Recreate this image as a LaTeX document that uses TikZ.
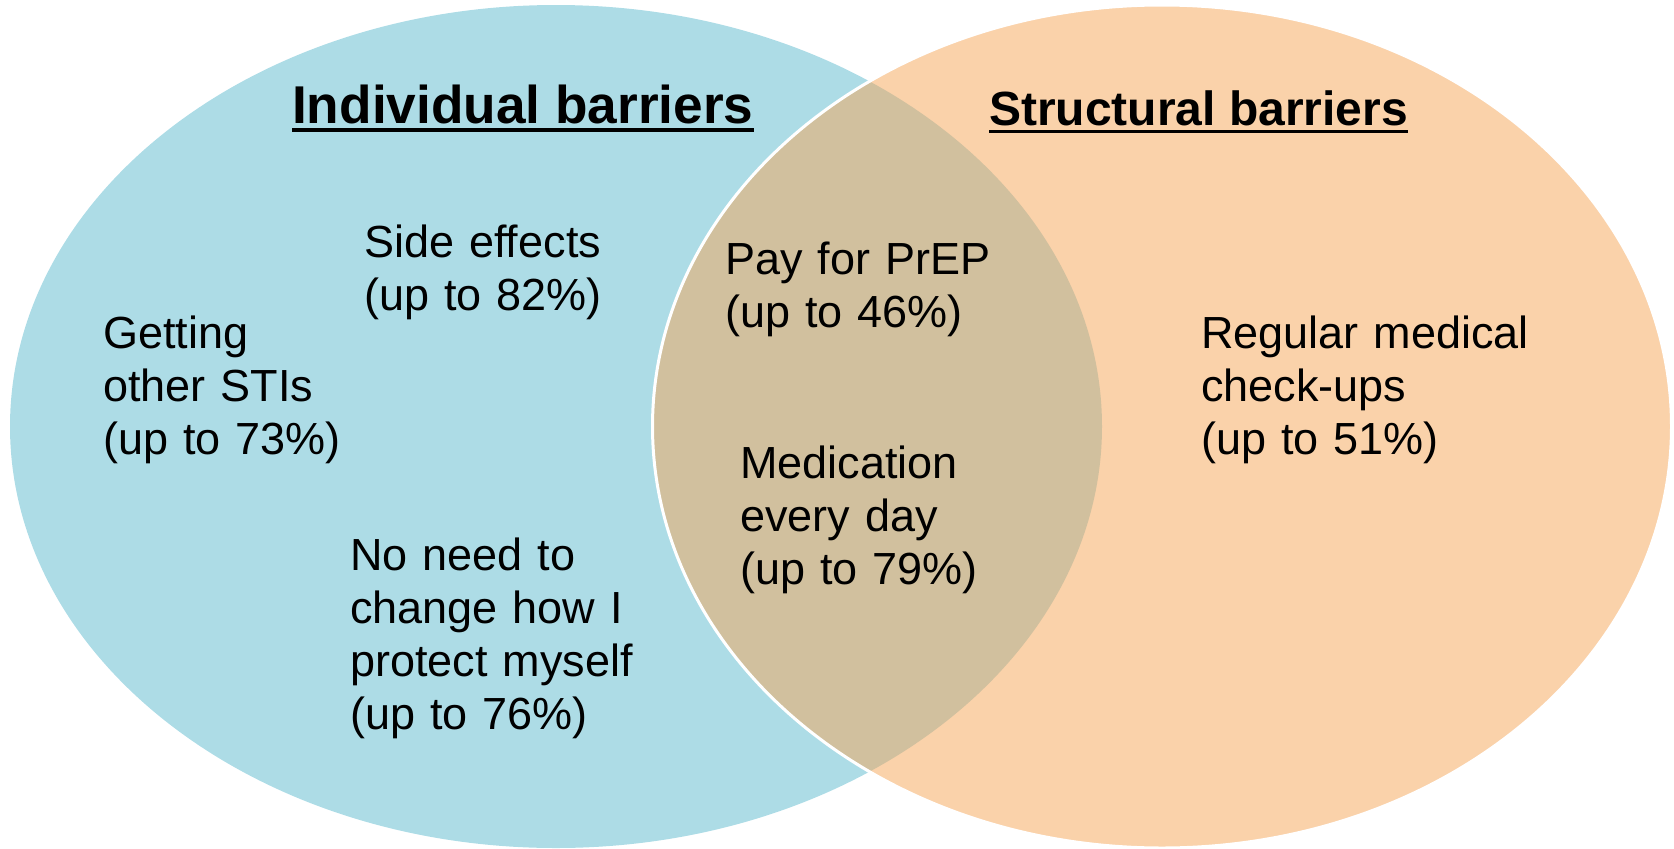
\documentclass[tikz,border=0pt]{standalone}
\usepackage{fontspec}
\setmainfont{Liberation Sans}
\definecolor{indblue}{RGB}{173,220,230}
\definecolor{strpeach}{RGB}{250,210,170}
\definecolor{overlap}{RGB}{209,192,158}
\begin{document}
\begin{tikzpicture}[x=1pt,y=-1pt,
  body/.style={anchor=base west,inner sep=0pt,align=left,text width=400pt,
    font=\fontsize{45}{53}\selectfont},
  title/.style={anchor=base west,inner sep=0pt,font=\bfseries},
  uline/.style={line width=3.5pt}]
\useasboundingbox (0,0) rectangle (1674,849);
\fill[indblue] (556,426.5) ellipse [x radius=546pt, y radius=421.5pt];
\fill[strpeach] (1162,426.5) ellipse [x radius=509.5pt, y radius=421.5pt];
\begin{scope}
  \clip (556,426.5) ellipse [x radius=546pt, y radius=421.5pt];
  \fill[overlap] (1162,426.5) ellipse [x radius=509.5pt, y radius=421.5pt];
\end{scope}
\draw[white,line width=3pt] (1162,426.5) ellipse [x radius=509.5pt, y radius=421.5pt];

\node[title,font=\bfseries\fontsize{53.2}{60}\selectfont] (t1) at (292,123) {Individual barriers};
\draw[uline] ([yshift=-7pt]t1.base west) -- ([yshift=-7pt]t1.base east);
\node[title,font=\bfseries\fontsize{48}{56}\selectfont] (t2) at (989,125) {Structural barriers};
\draw[uline] ([yshift=-6.5pt]t2.base west) -- ([yshift=-6.5pt]t2.base east);

\node[body] (side) at (364,257) {Side effects\\(up to 82\%)};
\node[body] (sti) at (103,348) {Getting\\other STIs\\(up to 73\%)};
\node[body] (noneed) at (350,570) {No need to\\change how I\\protect myself\\(up to 76\%)};
\node[body] (pay) at (725,274) {Pay for PrEP\\(up to 46\%)};
\node[body] (med) at (740,478) {Medication\\every day\\(up to 79\%)};
\node[body] (reg) at (1201,348) {Regular medical\\check-ups\\(up to 51\%)};
\end{tikzpicture}
\end{document}
